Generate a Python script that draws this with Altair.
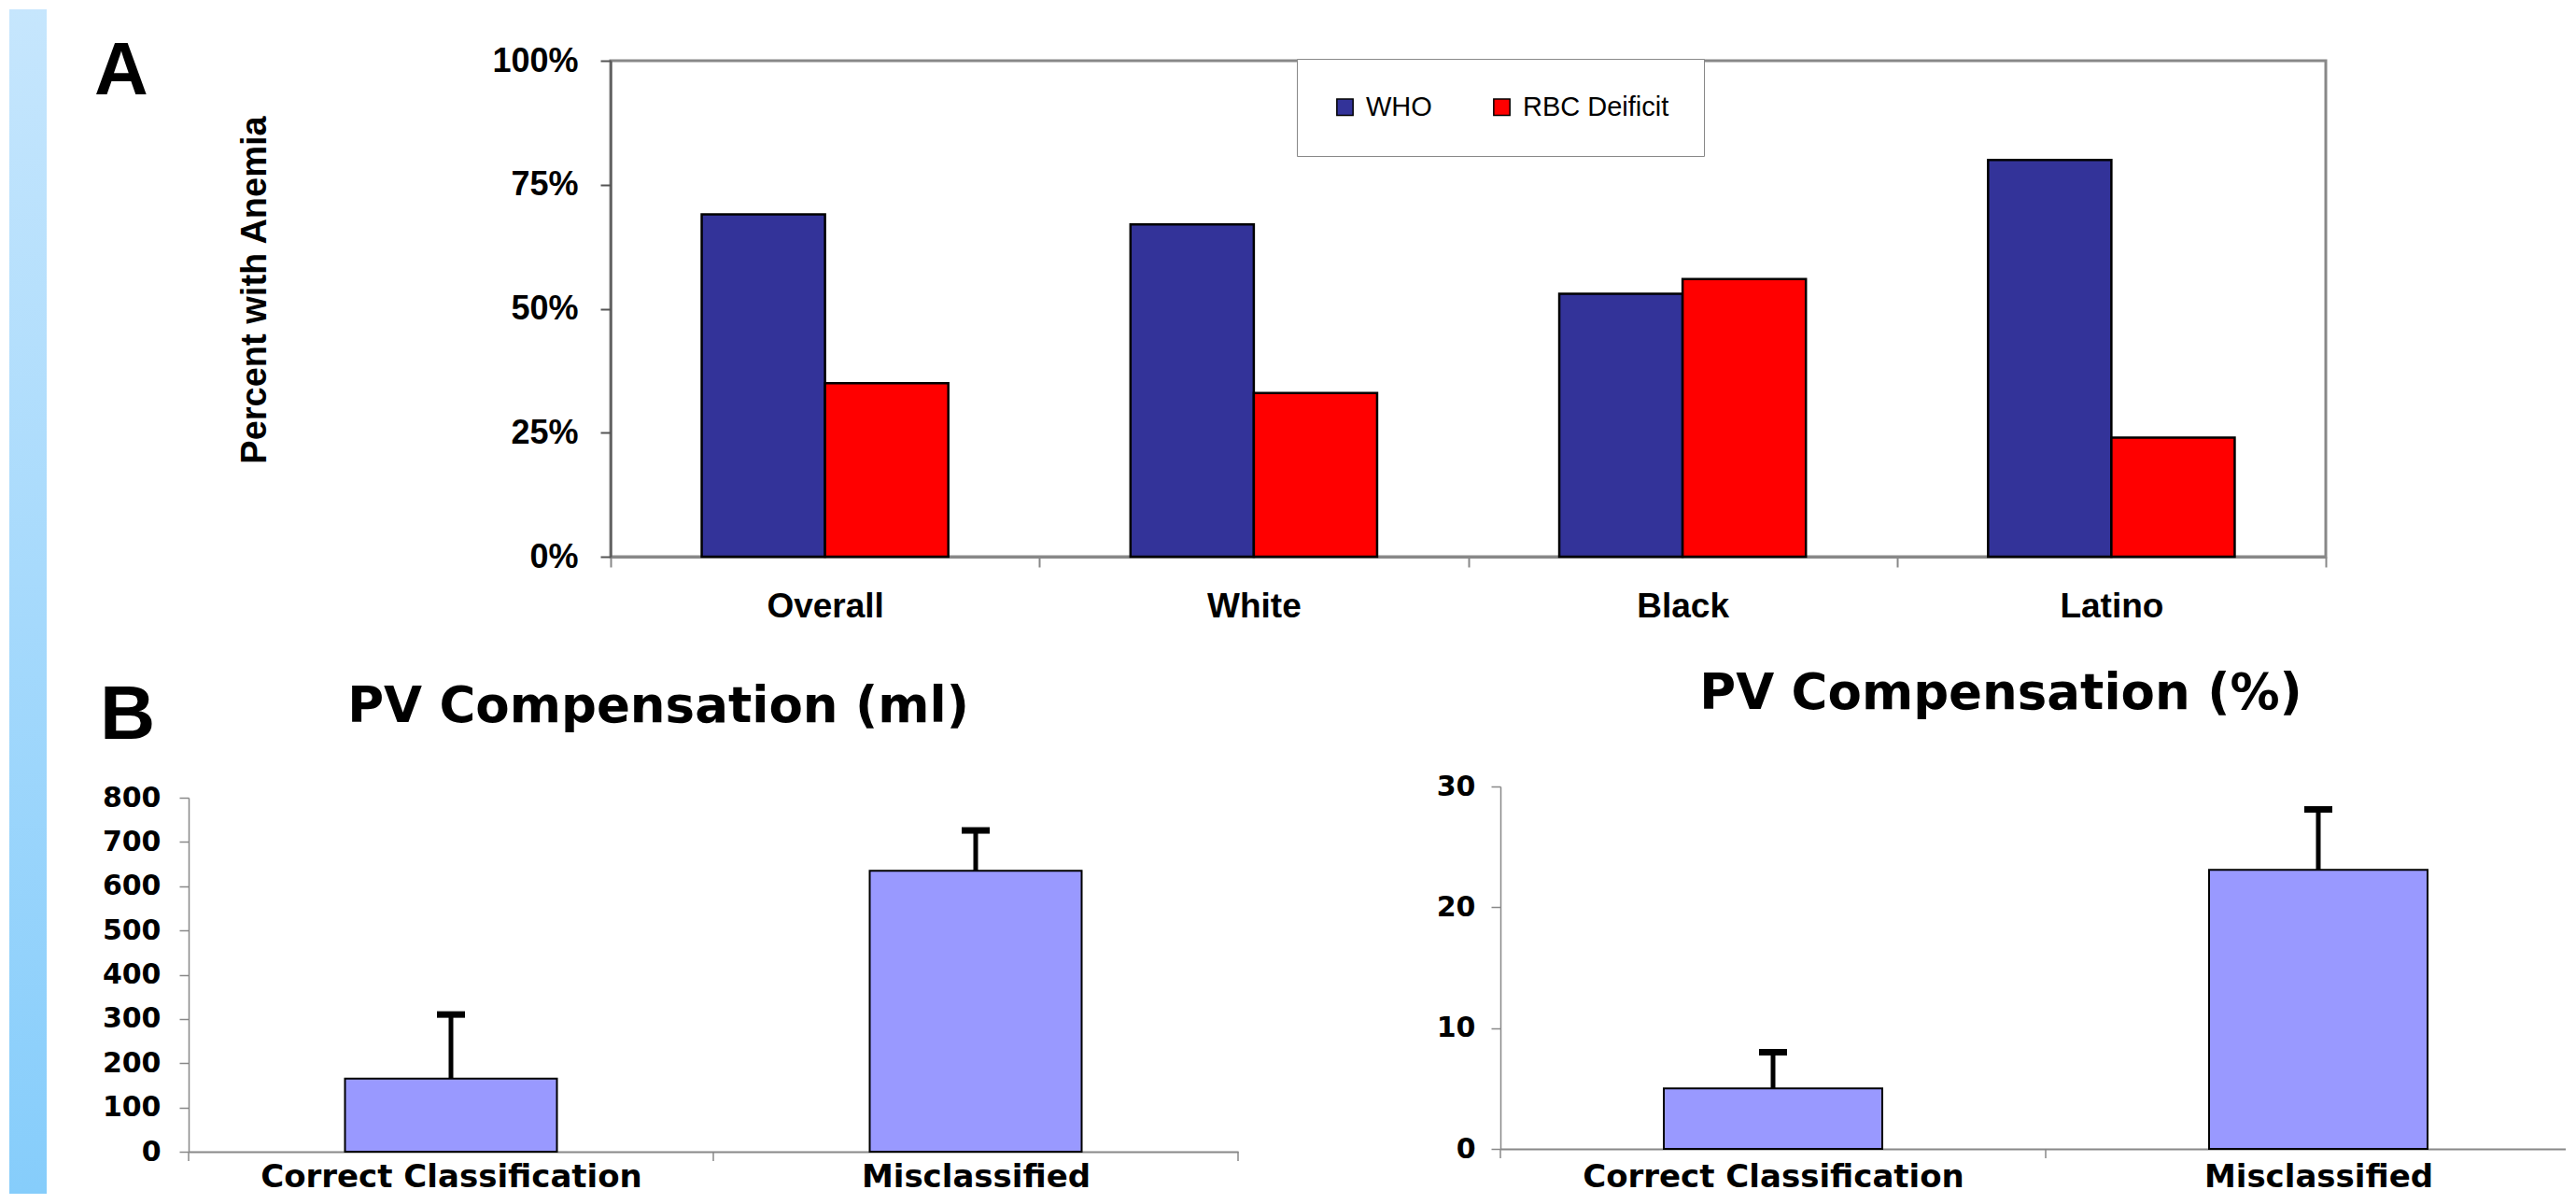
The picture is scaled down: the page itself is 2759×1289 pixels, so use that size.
import json
import altair as alt
import pandas as pd

# ---------------- data ----------------
# Panel A
groups = ["Overall", "White", "Black", "Latino"]
criteria = ["WHO", "RBC Deificit"]
who_share = [0.69, 0.67, 0.53, 0.80]
rbc_share = [0.35, 0.33, 0.56, 0.24]
share_ticks = [0, 0.25, 0.5, 0.75, 1.0]

# Panel B
classes = ["Correct Classification", "Misclassified"]
ml_mean = [165, 635]
ml_upper = [310, 726]
ml_ticks = [0, 100, 200, 300, 400, 500, 600, 700, 800]
pct_mean = [5.0, 23.1]
pct_upper = [8.0, 28.1]
pct_ticks = [0, 10, 20, 30]

colors_a = ["#333399", "#ff0000"]
bar_b = "#9999ff"

SANS = "Liberation Sans, Arial, sans-serif"
WIDE = "DejaVu Sans, Verdana, sans-serif"

# ---------------- panel A ----------------
rows = []
for g, w, r in zip(groups, who_share, rbc_share):
    rows.append({"group": g, "criterion": criteria[0], "value": w})
    rows.append({"group": g, "criterion": criteria[1], "value": r})
df_a = pd.DataFrame(rows)

A_W, A_H = 1837, 531

bars_a = alt.Chart(df_a).mark_bar(stroke="black", strokeWidth=2.5).encode(
    x=alt.X(
        "group:N", sort=groups,
        scale=alt.Scale(paddingInner=0, paddingOuter=0),
        axis=alt.Axis(
            title=None, labelAngle=0, tickBand="extent",
            domainColor="#888888", domainWidth=3,
            tickColor="#888888", tickWidth=2, tickSize=11,
            labelFont=SANS, labelFontSize=37, labelFontWeight="bold",
            labelColor="black", labelBaseline="alphabetic", labelPadding=53,
        ),
    ),
    xOffset=alt.XOffset(
        "criterion:N", sort=criteria,
        scale=alt.Scale(paddingInner=0, paddingOuter=0.7386),
    ),
    y=alt.Y(
        "value:Q",
        scale=alt.Scale(domain=[0, 1], nice=False),
        axis=alt.Axis(
            values=share_ticks, format=".0%", grid=False,
            domainColor="#555555", domainWidth=2,
            tickColor="#555555", tickWidth=2, tickSize=11,
            labelPadding=24, labelFont=SANS, labelFontSize=36,
            labelFontWeight="bold", labelColor="black",
            title="Percent with Anemia", titleX=-381, titleY=245,
            titleAngle=270, titleAlign="center", titleBaseline="middle",
            titleFont=SANS, titleFontSize=38, titleFontWeight="bold",
            titleColor="black",
        ),
    ),
    color=alt.Color(
        "criterion:N", sort=criteria,
        scale=alt.Scale(domain=criteria, range=colors_a),
        legend=alt.Legend(
            orient="none", legendX=1187, legendY=-2, direction="horizontal",
            title=None, symbolType="square", symbolSize=300,
            symbolStrokeColor="black", symbolStrokeWidth=1.5,
            labelFont=SANS, labelFontSize=29, labelColor="black",
            labelOffset=8, labelLimit=400, columnPadding=60, padding=37,
            strokeColor="#888888", fillColor="white",
        ),
    ),
)

strip = alt.Chart(pd.DataFrame({"k": [0]})).mark_rect(
    color=alt.Gradient(
        gradient="linear",
        stops=[alt.GradientStop(color="#c6e6fd", offset=0),
               alt.GradientStop(color="#86cdfb", offset=1)],
        x1=0, x2=0, y1=0, y2=1,
    )
).encode(x=alt.value(-644), x2=alt.value(-604), y=alt.value(-55), y2=alt.value(1213))

letter_a = alt.Chart(pd.DataFrame({"t": ["A"]})).mark_text(
    font=SANS, fontSize=80, fontWeight="bold", align="left",
    baseline="alphabetic", color="black",
).encode(text="t:N", x=alt.value(-553), y=alt.value(36))

panel_a = alt.layer(strip, bars_a, letter_a).properties(
    width=A_W, height=A_H,
    view=alt.ViewBackground(stroke="#888888", strokeWidth=3),
)


# ---------------- panel B ----------------
def pv_panel(means, uppers, ymax, yticks, width, height, step, bar_w,
             title, title_x, title_y, label_pad, ylabel_pad, letter=None):
    dmax = width / step
    df = pd.DataFrame({
        "cls": classes,
        "pos": [i + 0.5 for i in range(len(classes))],
        "mean": means,
        "upper": uppers,
    })
    # category boundaries that fall inside the visible x range
    df_t = pd.DataFrame({"pos": [b for b in range(len(classes) + 1) if b <= dmax]})
    xscale = alt.Scale(domain=[0, dmax], nice=False, zero=False, padding=0)
    x_main = alt.X(
        "pos:Q", scale=xscale,
        axis=alt.Axis(
            values=[i + 0.5 for i in range(len(classes))],
            labelExpr=f"{json.dumps(classes)}[floor(datum.value)]",
            ticks=False, tickSize=0, grid=False, title=None,
            domainColor="#888888", domainWidth=2,
            labelFont=WIDE, labelFontSize=34, labelFontWeight="bold",
            labelColor="black", labelBaseline="alphabetic",
            labelPadding=label_pad, labelAlign="center", labelLimit=800,
            labelFlush=False, labelOverlap=False,
        ),
    )
    y_main = alt.Y(
        "mean:Q",
        scale=alt.Scale(domain=[0, ymax], nice=False),
        axis=alt.Axis(
            values=yticks, grid=False, title=None,
            domainColor="#888888", domainWidth=1.5,
            tickColor="#888888", tickWidth=1.5, tickSize=10,
            labelPadding=ylabel_pad, labelFont=WIDE, labelFontSize=30,
            labelFontWeight="bold", labelColor="black",
        ),
    )
    bars = alt.Chart(df).mark_bar(
        size=bar_w, fill=bar_b, stroke="black", strokeWidth=2
    ).encode(x=x_main, y=y_main)
    err = alt.Chart(df).mark_rule(color="black", strokeWidth=5).encode(
        x=alt.X("pos:Q", title=None),
        y=alt.Y("mean:Q", title=None),
        y2="upper:Q",
    )
    caps = alt.Chart(df).mark_tick(
        orient="horizontal", color="black", size=30, thickness=7, opacity=1
    ).encode(x=alt.X("pos:Q", title=None), y=alt.Y("upper:Q", title=None))
    bticks = alt.Chart(df_t).mark_rule(color="#888888", strokeWidth=1.5).encode(
        x=alt.X("pos:Q", title=None),
        y=alt.value(height), y2=alt.value(height + 10),
    )
    ttl = alt.Chart(pd.DataFrame({"t": [title]})).mark_text(
        font=WIDE, fontSize=53, fontWeight="bold", align="center",
        baseline="alphabetic", color="black",
    ).encode(text="t:N", x=alt.value(title_x), y=alt.value(title_y))
    layers = [bars, err, caps, bticks, ttl]
    if letter is not None:
        layers.append(letter)
    return alt.layer(*layers).properties(width=width, height=height)


letter_b = alt.Chart(pd.DataFrame({"t": ["B"]})).mark_text(
    font=SANS, fontSize=82, fontWeight="bold", align="left",
    baseline="alphabetic", color="black",
).encode(text="t:N", x=alt.value(-95), y=alt.value(-63))

panel_bl = pv_panel(ml_mean, ml_upper, 800, ml_ticks, 1124, 379, 562, 227,
                    "PV Compensation (ml)", 503, -81, 37, 20, letter_b)
panel_br = pv_panel(pct_mean, pct_upper, 30, pct_ticks, 1141, 388, 584, 234,
                    "PV Compensation (%)", 536, -83, 40, 17)


def spacer(w, h):
    return alt.Chart(pd.DataFrame({"k": [0]})).mark_point(opacity=0).encode(
        x=alt.value(0), y=alt.value(0)
    ).properties(width=w, height=h)


# with "flush" bounds nested concat groups count as zero-sized,
# so the spacings below include the sizes of the preceding cells
row1 = alt.hconcat(spacer(452, A_H), panel_a, spacing=0, bounds="flush")
col_bl = alt.vconcat(spacer(1124, 12), panel_bl, spacing=0, bounds="flush")
row2 = alt.hconcat(col_bl, panel_br, spacing=1124 + 281, bounds="flush")

chart = alt.vconcat(row1, row2, spacing=A_H + 246, bounds="flush").properties(
    padding=0, background="white"
).configure_view(stroke=None)

chart.save("out.html", embed_options={"renderer": "svg", "actions": False})
